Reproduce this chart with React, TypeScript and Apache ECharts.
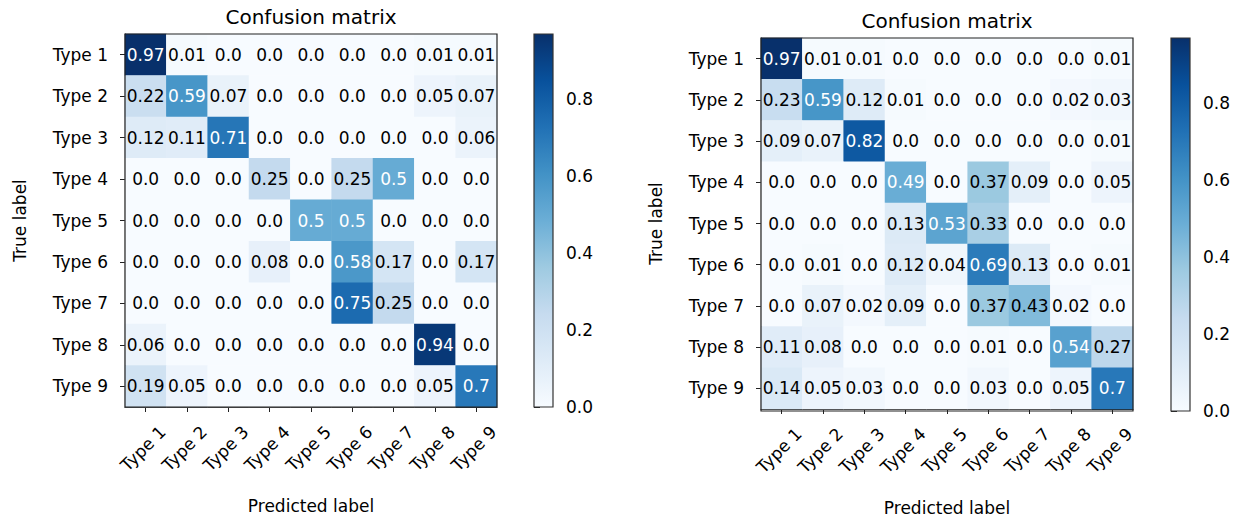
import React, { useEffect, useRef } from "react";
import * as echarts from "echarts";

const categories = ["Type 1", "Type 2", "Type 3", "Type 4", "Type 5", "Type 6", "Type 7", "Type 8", "Type 9"];

const leftMatrix = [
  [0.97, 0.01, 0.0, 0.0, 0.0, 0.0, 0.0, 0.01, 0.01],
  [0.22, 0.59, 0.07, 0.0, 0.0, 0.0, 0.0, 0.05, 0.07],
  [0.12, 0.11, 0.71, 0.0, 0.0, 0.0, 0.0, 0.0, 0.06],
  [0.0, 0.0, 0.0, 0.25, 0.0, 0.25, 0.5, 0.0, 0.0],
  [0.0, 0.0, 0.0, 0.0, 0.5, 0.5, 0.0, 0.0, 0.0],
  [0.0, 0.0, 0.0, 0.08, 0.0, 0.58, 0.17, 0.0, 0.17],
  [0.0, 0.0, 0.0, 0.0, 0.0, 0.75, 0.25, 0.0, 0.0],
  [0.06, 0.0, 0.0, 0.0, 0.0, 0.0, 0.0, 0.94, 0.0],
  [0.19, 0.05, 0.0, 0.0, 0.0, 0.0, 0.0, 0.05, 0.7],
];

const rightMatrix = [
  [0.97, 0.01, 0.01, 0.0, 0.0, 0.0, 0.0, 0.0, 0.01],
  [0.23, 0.59, 0.12, 0.01, 0.0, 0.0, 0.0, 0.02, 0.03],
  [0.09, 0.07, 0.82, 0.0, 0.0, 0.0, 0.0, 0.0, 0.01],
  [0.0, 0.0, 0.0, 0.49, 0.0, 0.37, 0.09, 0.0, 0.05],
  [0.0, 0.0, 0.0, 0.13, 0.53, 0.33, 0.0, 0.0, 0.0],
  [0.0, 0.01, 0.0, 0.12, 0.04, 0.69, 0.13, 0.0, 0.01],
  [0.0, 0.07, 0.02, 0.09, 0.0, 0.37, 0.43, 0.02, 0.0],
  [0.11, 0.08, 0.0, 0.0, 0.0, 0.01, 0.0, 0.54, 0.27],
  [0.14, 0.05, 0.03, 0.0, 0.0, 0.03, 0.0, 0.05, 0.7],
];

const colorbarMin = 0;
const colorbarMax = 0.97;
const colorbarTickStep = 0.2;

const blues = ["#f7fbff", "#deebf7", "#c6dbef", "#9ecae1", "#6baed6", "#4292c6", "#2171b5", "#08519c", "#08306b"];

const FONT = "DejaVu Sans";

const panels = [
  { matrix: leftMatrix, box: { x: 125, y: 34, w: 372, h: 373 }, bar: { x: 534, y: 34, w: 19, h: 373 }, titleY: 17 },
  { matrix: rightMatrix, box: { x: 761, y: 38, w: 372, h: 373 }, bar: { x: 1171, y: 38, w: 19, h: 373 }, titleY: 21 },
];

function fmt(v: number) {
  return Number.isInteger(v) ? v.toFixed(1) : String(v);
}

export default function App() {
  const ref = useRef<HTMLDivElement>(null);
  useEffect(() => {
    if (!ref.current) return;
    const chart = echarts.init(ref.current, undefined, { renderer: "svg" });

    const grid: any[] = [];
    const xAxis: any[] = [];
    const yAxis: any[] = [];
    const series: any[] = [];
    const graphic: any[] = [];

    const stops = blues.map((c, i) => ({ offset: i / (blues.length - 1), color: c }));

    panels.forEach((p) => {
      const maxV = Math.max(...p.matrix.flat());
      const thresh = maxV / 2;
      const gi = grid.length;
      grid.push({ left: p.box.x, top: p.box.y, width: p.box.w, height: p.box.h, containLabel: false });
      xAxis.push({
        type: "category",
        gridIndex: gi,
        data: categories,
        name: "Predicted label",
        nameLocation: "middle",
        nameGap: 90,
        nameTextStyle: { fontFamily: FONT, fontSize: 17, color: "#000" },
        axisLine: { show: true, lineStyle: { color: "#222", width: 1.2 } },
        axisTick: { show: true, alignWithLabel: true, length: 5, lineStyle: { color: "#222" } },
        axisLabel: {
          rotate: 45,
          margin: 5,
          lineHeight: 48,
          formatter: (v: string) => "\n" + v,
          fontFamily: FONT,
          fontSize: 17,
          color: "#000",
          interval: 0,
        },
        splitLine: { show: false },
        splitArea: { show: false },
      });
      yAxis.push({
        type: "category",
        gridIndex: gi,
        data: categories,
        inverse: true,
        name: "True label",
        nameLocation: "middle",
        nameGap: 97,
        nameTextStyle: { fontFamily: FONT, fontSize: 17, color: "#000" },
        axisLine: { show: true, lineStyle: { color: "#222", width: 1.2 } },
        axisTick: { show: true, alignWithLabel: true, length: 5, lineStyle: { color: "#222" } },
        axisLabel: { margin: 17, fontFamily: FONT, fontSize: 17, color: "#000", interval: 0 },
        splitLine: { show: false },
        splitArea: { show: false },
      });
      const data: any[] = [];
      p.matrix.forEach((row, r) =>
        row.forEach((v, c) => {
          data.push({
            value: [c, r, v],
            label: { color: v > thresh ? "#ffffff" : "#000000" },
          });
        })
      );
      series.push({
        type: "heatmap",
        xAxisIndex: gi,
        yAxisIndex: gi,
        data,
        label: {
          show: true,
          fontFamily: FONT,
          fontSize: 17,
          formatter: (prm: any) => fmt(prm.value[2]),
        },
        itemStyle: { borderWidth: 0 },
        emphasis: { disabled: true },
      });

      // colorbar grid
      const ci = grid.length;
      grid.push({ left: p.bar.x, top: p.bar.y, width: p.bar.w, height: p.bar.h, containLabel: false });
      xAxis.push({ type: "value", gridIndex: ci, show: false, min: 0, max: 1 });
      yAxis.push({
        type: "value",
        gridIndex: ci,
        position: "right",
        min: colorbarMin,
        max: colorbarMax,
        interval: colorbarTickStep,
        axisLine: { show: false },
        axisTick: { show: true, length: 6, lineStyle: { color: "#222" } },
        axisLabel: {
          margin: 13,
          fontFamily: FONT,
          fontSize: 17,
          color: "#000",
          formatter: (v: number) => v.toFixed(1),
          showMaxLabel: false,
        },
        splitLine: { show: false },
      });
      series.push({
        type: "custom",
        xAxisIndex: ci,
        yAxisIndex: ci,
        data: [[0, 0]],
        silent: true,
        renderItem: (params: any) => {
          const cs = params.coordSys;
          return {
            type: "rect",
            shape: { x: cs.x, y: cs.y, width: cs.width, height: cs.height },
            style: {
              fill: new echarts.graphic.LinearGradient(0, 1, 0, 0, stops),
              stroke: "#333",
              lineWidth: 1.2,
            },
          };
        },
      });

      graphic.push({
        type: "text",
        x: p.box.x + p.box.w / 2,
        y: p.titleY,
        style: {
          text: "Confusion matrix",
          fontFamily: FONT,
          fontSize: 20,
          fill: "#000",
          textAlign: "center",
          textVerticalAlign: "middle",
        },
      });
      graphic.push({
        type: "rect",
        shape: { x: p.box.x, y: p.box.y, width: p.box.w, height: p.box.h },
        style: { fill: "none", stroke: "#222", lineWidth: 1.2 },
        z: 100,
        silent: true,
      });
    });

    chart.setOption({
      animation: false,
      backgroundColor: "#ffffff",
      grid,
      xAxis,
      yAxis,
      visualMap: {
        show: false,
        type: "continuous",
        min: colorbarMin,
        max: colorbarMax,
        dimension: 2,
        seriesIndex: [0, 2],
        inRange: { color: blues },
      },
      series,
      graphic,
    });
    return () => chart.dispose();
  }, []);
  return <div ref={ref} style={{ position: "fixed", left: 0, top: 0, width: 1244, height: 521 }} />;
}
